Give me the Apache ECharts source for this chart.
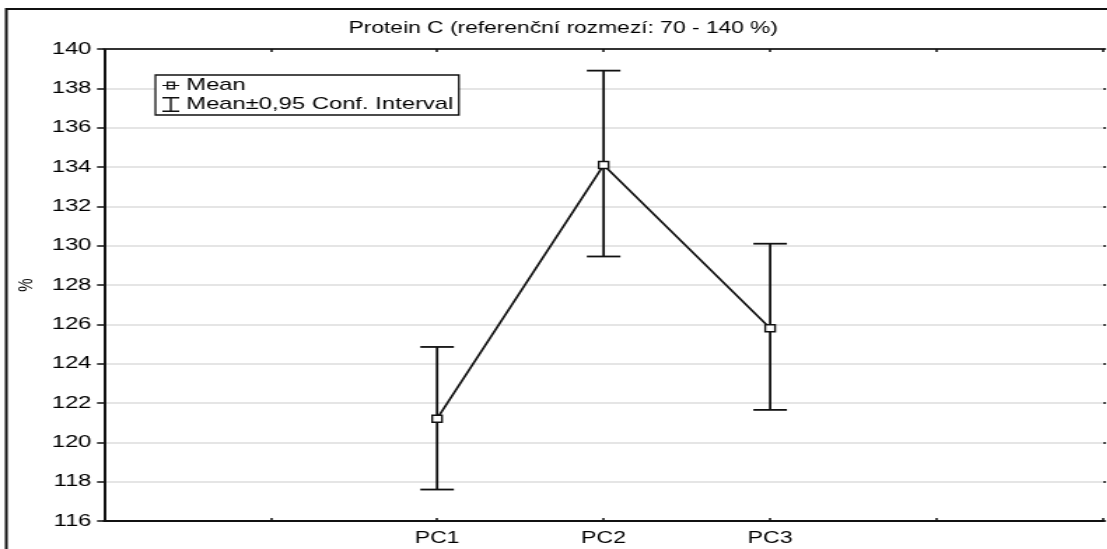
<!DOCTYPE html>
<html>
<head>
<meta charset="utf-8">
<title>Protein C</title>
<script src="https://cdn.jsdelivr.net/npm/echarts@6/dist/echarts.min.js"></script>
<style>
  html, body { margin: 0; padding: 0; background: #fff; overflow: hidden; }
  /* the source picture is stretched sideways, so the chart is stretched too */
  #main { width: 791px; height: 549px; transform: scaleX(1.4); transform-origin: 0 0; }
</style>
</head>
<body>
<div id="main"></div>
<script>
// x axis slots: two empty ones on each side of the groups
let categories = ["", "", "PC1", "PC2", "PC3", "", ""];
let groups = ["PC1", "PC2", "PC3"];
let means = [121.2, 134.1, 125.8];
let lower = [117.6, 129.45, 121.65];
let upper = [124.85, 138.9, 130.1];
let yMin = 116;
let yMax = 140;
let yStep = 2;

let ink = "#111";
let font = "Liberation Sans";

let meanData = groups.map((g, i) => [g, means[i]]);
let ciData = groups.map((g, i) => [g, lower[i], upper[i]]);

function renderErrorBar(params, api) {
  let x = api.value(0);
  let lo = api.coord([x, api.value(1)]);
  let hi = api.coord([x, api.value(2)]);
  let half = 12;
  let style = { stroke: ink, lineWidth: 1.8 };
  return {
    type: "group",
    children: [
      { type: "line", shape: { x1: lo[0], y1: lo[1], x2: hi[0], y2: hi[1] }, style: style },
      { type: "line", shape: { x1: hi[0] - half, y1: hi[1], x2: hi[0] + half, y2: hi[1] }, style: style },
      { type: "line", shape: { x1: lo[0] - half, y1: lo[1], x2: lo[0] + half, y2: lo[1] }, style: style },
    ],
  };
}

// legend glyphs: hollow square on a line, and an I-beam
let meanIcon =
  "path://M3,0H9V1.2H3Z M3,6.8H9V8H3Z M3,1.2H4.2V6.8H3Z M7.8,1.2H9V6.8H7.8Z" +
  " M0,3.4H3V4.6H0Z M4.2,3.4H7.8V4.6H4.2Z M9,3.4H12V4.6H9Z";
let ciIcon = "path://M0,0H12V1.4H6.7V13.6H12V15H0V13.6H5.3V1.4H0Z";

let chart = echarts.init(document.getElementById("main"), null, { renderer: "canvas" });
let option = {
  animation: false,
  textStyle: { fontFamily: font, color: "#000" },
  title: {
    text: "Protein C (referenční rozmezí: 70 - 140 %)",
    left: 249,
    top: 21,
    padding: 0,
    textStyle: { fontFamily: font, fontSize: 16.3, fontWeight: "normal", color: "#000" },
  },
  legend: {
    orient: "vertical",
    left: 111,
    top: 75,
    itemWidth: 12,
    itemHeight: 15,
    itemGap: 2,
    padding: [2, 4, 2, 5],
    borderColor: ink,
    borderWidth: 1.3,
    backgroundColor: "#fff",
    textStyle: { fontFamily: font, fontSize: 17, color: "#000" },
    data: [
      { name: "Mean", icon: meanIcon, itemStyle: { color: ink, borderWidth: 0 } },
      { name: "Mean±0,95 Conf. Interval", icon: ciIcon },
    ],
  },
  graphic: [
    {
      type: "rect",
      shape: { x: 4.5, y: 9, width: 900, height: 700 },
      style: { fill: "none", stroke: ink, lineWidth: 2 },
      silent: true,
    },
  ],
  grid: { left: 74.3, right: 2, top: 49, bottom: 28 },
  xAxis: [
    {
      type: "category",
      data: categories,
      boundaryGap: false,
      axisLine: { lineStyle: { color: ink, width: 2 } },
      axisTick: { inside: true, length: 3, lineStyle: { color: ink, width: 1.5 } },
      axisLabel: { fontSize: 16.5, color: "#000", margin: 9, interval: 0 },
      splitLine: { show: false },
    },
    {
      type: "category",
      position: "top",
      data: categories,
      boundaryGap: false,
      axisLine: { lineStyle: { color: "#333", width: 2 } },
      axisTick: { inside: true, length: 3, lineStyle: { color: ink, width: 1.5 } },
      axisLabel: { show: false },
      splitLine: { show: false },
    },
  ],
  yAxis: [
    {
      type: "value",
      min: yMin,
      max: yMax,
      interval: yStep,
      name: "%",
      nameLocation: "middle",
      nameGap: 46,
      nameTextStyle: { fontFamily: font, fontSize: 15, color: "#000" },
      axisLine: { show: true, lineStyle: { color: ink, width: 2 } },
      axisTick: { show: true, length: 5, lineStyle: { color: ink, width: 1.5 } },
      axisLabel: { fontSize: 17, color: "#000", margin: 9 },
      splitLine: { show: true, lineStyle: { color: "#dcdcdc", width: 1.5 } },
    },
    {
      type: "value",
      position: "right",
      min: yMin,
      max: yMax,
      interval: yStep,
      axisLine: { show: false },
      axisTick: { show: true, length: 2, lineStyle: { color: ink, width: 1.5 } },
      axisLabel: { show: false },
      splitLine: { show: false },
    },
  ],
  series: [
    {
      name: "Mean±0,95 Conf. Interval",
      type: "custom",
      renderItem: renderErrorBar,
      itemStyle: { color: ink },
      encode: { x: 0, y: [1, 2] },
      data: ciData,
      z: 2,
    },
    {
      name: "Mean",
      type: "line",
      data: meanData,
      symbol: "rect",
      symbolSize: [7, 7],
      lineStyle: { color: ink, width: 1.7 },
      itemStyle: { color: "#fff", borderColor: ink, borderWidth: 1.4 },
      z: 3,
    },
  ],
};
option && chart.setOption(option);
</script>
</body>
</html>
